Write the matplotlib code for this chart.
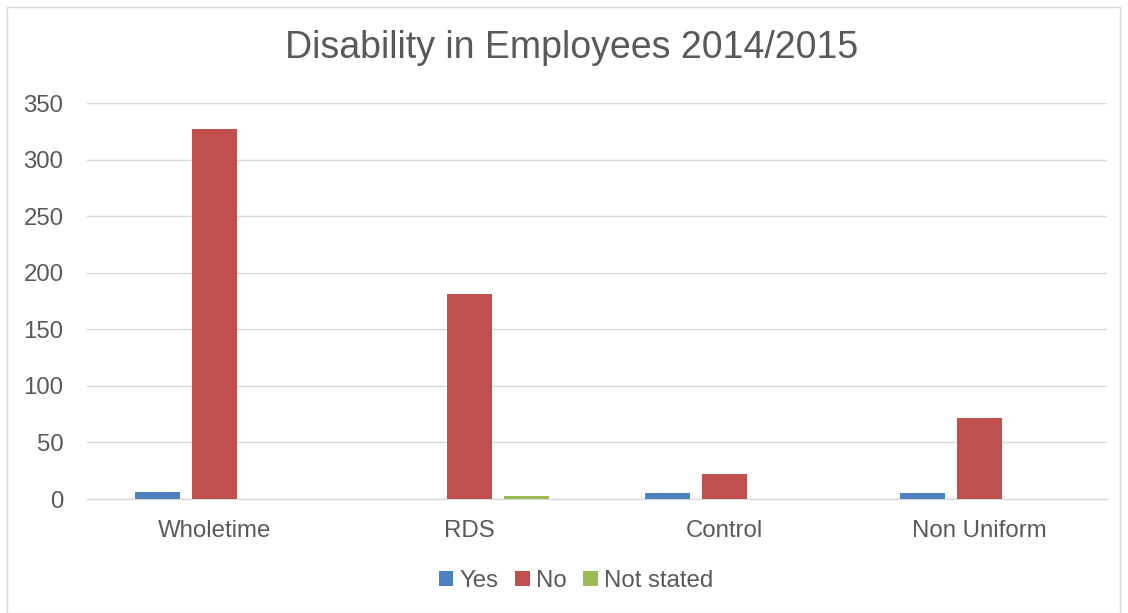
import matplotlib
matplotlib.use("Agg")
import matplotlib.pyplot as plt
import numpy as np
from matplotlib.patches import Rectangle

categories = ["Wholetime", "RDS", "Control", "Non Uniform"]
series_names = ["Yes", "No", "Not stated"]
yes = [6, 0, 5, 5]
no = [327, 181, 22, 72]
not_stated = [0, 3, 0, 0]
y_ticks = [0, 50, 100, 150, 200, 250, 300, 350]

colors = ["#4F81BD", "#C0504D", "#9BBB59"]
text_color = "#595959"
grid_color = "#D9D9D9"

plt.rcParams["font.family"] = ["Liberation Sans", "DejaVu Sans"]

fig = plt.figure(figsize=(11.28, 6.13), dpi=100)
ax = fig.add_axes([87 / 1128, 1 - 499 / 613, (1107 - 87) / 1128, (499 - 103) / 613])

# outer chart frame
fig.patches.append(Rectangle((7 / 1128, 0.0), (1120 - 7) / 1128, 1 - 7 / 613,
                             transform=fig.transFigure, fill=False,
                             edgecolor=grid_color, linewidth=1.0))

x = np.arange(len(categories))
bar_w = 0.1765
step = 0.2235
for i, (vals, name) in enumerate(zip([yes, no, not_stated], series_names)):
    ax.bar(x + (i - 1) * step, vals, width=bar_w, color=colors[i], label=name, zorder=3)

ax.set_xlim(-0.5, len(categories) - 0.5)
ax.set_ylim(0, 350)
ax.set_yticks(y_ticks)
ax.set_xticks(x)
ax.set_xticklabels(categories)
ax.yaxis.grid(True, color=grid_color, linewidth=1.0, zorder=0)
ax.set_axisbelow(True)
for side in ["top", "right", "left"]:
    ax.spines[side].set_visible(False)
ax.spines["bottom"].set_color(grid_color)
ax.spines["bottom"].set_linewidth(1.0)
ax.tick_params(axis="both", length=0, labelsize=17.3, colors=text_color)
ax.tick_params(axis="y", pad=17)
ax.tick_params(axis="x", pad=15)

fig.text(572 / 1128, 1 - 48 / 613, "Disability in Employees 2014/2015",
         ha="center", va="center", fontsize=27, color=text_color)

leg = fig.legend(loc="center", bbox_to_anchor=(576 / 1128, 1 - 581 / 613), ncol=3,
                 frameon=False, fontsize=17.3, handlelength=0.6, handleheight=0.6,
                 handletextpad=0.25, columnspacing=0.7)
for t in leg.get_texts():
    t.set_color(text_color)

fig.savefig("out.png", dpi=100)
